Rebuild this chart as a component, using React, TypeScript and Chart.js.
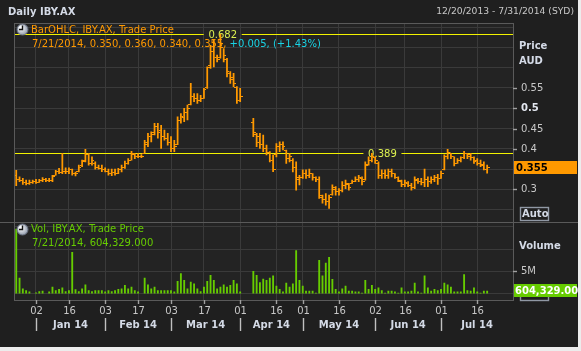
import React, { useEffect, useRef } from 'react';
import { Chart, registerables } from 'chart.js';

Chart.register(...registerables);

// ---- trading days (ASX) ----
const dec2013 = [20, 23, 24, 27, 30, 31];
const jan2014 = [2, 3, 6, 7, 8, 9, 10, 13, 14, 15, 16, 17, 20, 21, 22, 23, 24, 28, 29, 30, 31];
const feb2014 = [3, 4, 5, 6, 7, 10, 11, 12, 13, 14, 17, 18, 19, 20, 21, 24, 25, 26, 27, 28];
const mar2014 = [3, 4, 5, 6, 7, 10, 11, 12, 13, 14, 17, 18, 19, 20, 21, 24, 25, 26, 27, 28, 31];
const apr2014 = [1, 2, 3, 4, 7, 8, 9, 10, 11, 14, 15, 16, 17, 22, 23, 24, 28, 29, 30];
const may2014 = [1, 2, 5, 6, 7, 8, 9, 12, 13, 14, 15, 16, 19, 20, 21, 22, 23, 26, 27, 28, 29, 30];
const jun2014 = [2, 3, 4, 5, 6, 10, 11, 12, 13, 16, 17, 18, 19, 20, 23, 24, 25, 26, 27, 30];
const jul2014 = [1, 2, 3, 4, 7, 8, 9, 10, 11, 14, 15, 16, 17, 18, 21, 22, 23, 24, 25, 28, 29, 30, 31];

const dates: string[] = [
  ...dec2013.map((d) => `12/${d}/2013`),
  ...jan2014.map((d) => `1/${d}/2014`),
  ...feb2014.map((d) => `2/${d}/2014`),
  ...mar2014.map((d) => `3/${d}/2014`),
  ...apr2014.map((d) => `4/${d}/2014`),
  ...may2014.map((d) => `5/${d}/2014`),
  ...jun2014.map((d) => `6/${d}/2014`),
  ...jul2014.map((d) => `7/${d}/2014`),
];

// ---- x axis ticks ----
const tickDates = ['1/2/2014', '1/16/2014', '2/3/2014', '2/17/2014', '3/3/2014', '3/17/2014', '4/1/2014',
  '4/16/2014', '5/1/2014', '5/16/2014', '6/2/2014', '6/16/2014', '7/1/2014', '7/16/2014'];
const tickLabels = ['02', '16', '03', '17', '03', '17', '01', '16', '01', '16', '02', '16', '01', '16'];
const monthStarts = ['1/2/2014', '2/3/2014', '3/3/2014', '4/1/2014', '5/1/2014', '6/2/2014', '7/1/2014'];
const monthLabels = ['Jan 14', 'Feb 14', 'Mar 14', 'Apr 14', 'May 14', 'Jun 14', 'Jul 14'];

// ---- y axis ticks ----
const priceGrid = [0.25, 0.3, 0.35, 0.4, 0.45, 0.5, 0.55, 0.6, 0.65, 0.7];
const priceLabels = [0.55, 0.5, 0.45, 0.4, 0.3];
const volGrid = [0, 5, 10, 15];
const volLabels = [5];

// ---- OHLC (AUD) ----
const highs: (number | null)[] = [
  .347, .331, .327, .323, .323, .323, .325, .325, .329, .327,
  .327, .335, .347, .352, .389, .353, .353, .350, .343, .360,
  .372, .399, .389, .380, .368, .360, .360, .353, .350, .350,
  .350, .352, .360, .370, .376, .394, .389, .389, .386, .421,
  .438, .442, .463, .463, .458, .446, .438, .430, .421, .479,
  .487, .500, .508, .561, .536, .536, .532, .549, .602, .655,
  .668, .631, .682, .647, .623, .590, .586, .553, .549, null,
  null, null, .475, .438, .438, .434, .409, .393, .385, .413,
  .417, .417, .397, .389, .376, .368, .335, .348, .348, .350,
  .339, .331, .331, .286, .290, .286, .311, .307, .302, .319,
  .323, .315, .323, .331, .335, .331, .368, .380, .389, .380,
  .368, .348, .348, .350, .350, .339, .331, .323, .323, .319,
  .315, .331, .327, .327, .350, .331, .331, .335, .337, .345,
  .385, .399, .389, .380, .376, .380, .394, .389, .389, .380,
  .376, .372, .368, .360,
];
const lows: (number | null)[] = [
  .309, .319, .312, .311, .312, .315, .315, .317, .319, .319,
  .319, .319, .335, .339, .339, .339, .339, .335, .333, .343,
  .356, .368, .360, .360, .350, .350, .344, .343, .335, .334,
  .335, .339, .343, .352, .362, .372, .376, .378, .378, .389,
  .405, .417, .434, .426, .401, .421, .409, .393, .393, .410,
  .463, .467, .471, .508, .516, .512, .516, .524, .549, .598,
  .602, .614, .623, .614, .577, .561, .553, .512, .516, null,
  null, null, .430, .405, .401, .393, .385, .368, .344, .380,
  .393, .397, .364, .368, .343, .298, .311, .327, .327, .329,
  .323, .319, .278, .266, .261, .253, .286, .286, .286, .294,
  .302, .298, .315, .319, .319, .311, .323, .360, .368, .364,
  .327, .327, .327, .327, .331, .327, .319, .307, .307, .307,
  .298, .302, .315, .311, .307, .307, .315, .319, .312, .327,
  .348, .375, .376, .358, .364, .368, .376, .376, .372, .364,
  .360, .356, .348, .340,
];
const opens: (number | null)[] = [
  .335, .325, .322, .318, .315, .318, .320, .318, .322, .325,
  .322, .323, .335, .345, .342, .345, .343, .348, .340, .343,
  .358, .370, .385, .365, .365, .355, .352, .350, .345, .340,
  .342, .340, .348, .355, .365, .372, .385, .380, .382, .389,
  .410, .430, .440, .455, .445, .430, .425, .415, .400, .410,
  .470, .478, .490, .510, .530, .525, .520, .525, .550, .605,
  .640, .625, .625, .650, .620, .585, .575, .550, .520, null,
  null, null, .465, .435, .430, .410, .400, .390, .372, .385,
  .405, .410, .395, .375, .370, .355, .325, .330, .340, .335,
  .338, .330, .325, .280, .275, .270, .288, .300, .295, .298,
  .310, .312, .315, .320, .325, .328, .325, .362, .372, .378,
  .365, .335, .340, .335, .345, .338, .330, .320, .312, .315,
  .310, .305, .322, .320, .318, .325, .320, .325, .330, .328,
  .350, .380, .390, .380, .365, .372, .378, .388, .385, .378,
  .370, .365, .362, .350,
];
const closes: (number | null)[] = [
  .325, .323, .318, .315, .318, .320, .318, .322, .325, .322,
  .323, .332, .345, .342, .345, .343, .348, .340, .338, .355,
  .368, .385, .365, .372, .355, .352, .350, .345, .340, .342,
  .340, .348, .355, .365, .370, .388, .380, .382, .380, .415,
  .430, .435, .455, .440, .430, .425, .415, .400, .405, .470,
  .480, .490, .500, .530, .525, .520, .525, .545, .600, .640,
  .625, .620, .660, .630, .590, .570, .560, .520, .530, null,
  null, null, .440, .415, .410, .400, .390, .372, .350, .405,
  .410, .405, .375, .380, .355, .330, .330, .340, .335, .340,
  .330, .325, .285, .275, .270, .280, .305, .295, .298, .310,
  .315, .305, .320, .325, .330, .320, .360, .372, .380, .370,
  .335, .340, .335, .345, .340, .330, .322, .312, .318, .310,
  .305, .325, .320, .318, .325, .320, .325, .330, .328, .340,
  .380, .390, .382, .365, .372, .378, .388, .382, .378, .368,
  .365, .360, .350, .355,
];
// ---- volume (millions) ----
const volumes: (number | null)[] = [
  14.5, 3.5, 1.1, 0.7, 0.4, null, 0.2, 0.5, 0.6, null,
  0.4, 1.5, 0.7, 1.0, 1.3, 0.5, 0.7, 9.3, 0.9, 0.5,
  1.1, 2.0, 0.7, 0.5, 0.7, 0.7, 0.7, 0.4, 0.7, 0.5,
  0.7, 1.0, 1.1, 1.9, 1.1, 1.5, 0.7, 0.4, null, 3.5,
  2.0, 1.1, 1.5, 0.7, 0.7, 0.7, 0.7, 0.7, 0.4, 2.8,
  4.5, 3.0, 1.1, 2.6, 2.2, 1.1, 0.5, 1.5, 2.8, 4.1,
  3.0, 1.1, 1.5, 2.0, 1.5, 1.9, 3.0, 2.2, 0.4, null,
  null, null, 5.0, 4.1, 2.5, 3.3, 3.0, 3.5, 4.0, 1.7,
  1.0, 0.4, 2.4, 1.5, 2.2, 9.7, 3.0, 1.7, 0.6, 0.6,
  0.6, 0.15, 7.5, 4.0, 6.9, 8.2, 3.2, 1.0, 0.4, 1.1,
  1.7, 0.6, 0.6, 0.4, 0.4, 0.15, 3.0, 1.0, 1.9, 1.0,
  1.3, 0.7, 0.15, 0.6, 0.6, 0.4, 0.15, 1.3, 0.4, 0.4,
  0.6, 2.4, 0.4, 0.15, 4.0, 1.3, 0.6, 1.0, 0.7, 1.0,
  2.4, 2.0, 1.5, 0.4, 0.4, 0.4, 4.3, 0.7, 0.6, 1.3,
  0.4, 0.15, 0.6, 0.604329,
];

// reference lines
const refLevels = [0.682, 0.389];
const refLabelIdx = [62.7, 111.2];

const ORANGE = '#ff9900';
const GREEN = '#66cc00';
const CYAN = '#19d4e6';
const YELLOW = '#f2f200';
const YLABEL = '#dcf050';
const GRID = '#3a3a3a';
const BORDER = '#5a5a5a';
const AXTXT = '#c8c8c8';
const BOLDTXT = '#d4dae6';
const F = '"DejaVu Sans", sans-serif';

function txt(ctx: CanvasRenderingContext2D, s: string, x: number, y: number, font: string, color: string, align: CanvasTextAlign = 'left') {
  ctx.font = font;
  ctx.fillStyle = color;
  ctx.textAlign = align;
  ctx.textBaseline = 'middle';
  ctx.fillText(s, x, y);
}

function clock(ctx: CanvasRenderingContext2D, cx: number, cy: number) {
  const g = ctx.createRadialGradient(cx - 2, cy - 2, 1, cx, cy, 6);
  g.addColorStop(0, '#ffffff');
  g.addColorStop(1, '#8a94a6');
  ctx.beginPath();
  ctx.arc(cx, cy, 5.5, 0, Math.PI * 2);
  ctx.fillStyle = g;
  ctx.fill();
  ctx.strokeStyle = '#6a7282';
  ctx.lineWidth = 1;
  ctx.stroke();
  ctx.beginPath();
  ctx.moveTo(cx, cy - 4);
  ctx.lineTo(cx, cy);
  ctx.lineTo(cx - 3.5, cy);
  ctx.strokeStyle = '#111';
  ctx.lineWidth = 1.4;
  ctx.stroke();
}

export default function App() {
  const ref = useRef<HTMLCanvasElement>(null);

  useEffect(() => {
    const canvas = ref.current!;
    const mkTick = (left: boolean) => {
      const c = document.createElement('canvas');
      c.width = 5;
      c.height = 1;
      const g = c.getContext('2d')!;
      g.fillStyle = ORANGE;
      g.fillRect(left ? 0 : 3, 0, 2, 1);
      return c;
    };
    const openTick = mkTick(true);
    const closeTick = mkTick(false);

    const last = closes.length - 1;
    const tickIdx = tickDates.map((d) => dates.indexOf(d));
    const monthIdx = monthStarts.map((d) => dates.indexOf(d));

    const hlData: any[] = [];
    const openData: any[] = [];
    const closeData: any[] = [];
    const volData: any[] = [];
    highs.forEach((h, i) => {
      if (h != null && lows[i] != null) hlData.push({ x: i, y: [lows[i], h] });
      if (opens[i] != null) openData.push({ x: i, y: opens[i] });
      if (closes[i] != null) closeData.push({ x: i, y: closes[i] });
    });
    volumes.forEach((v, i) => {
      if (v != null) volData.push({ x: i, y: v });
    });

    const decor = {
      id: 'decor',
      beforeDraw(c: any) {
        const ctx = c.ctx as CanvasRenderingContext2D;
        const a = c.chartArea;
        ctx.save();
        ctx.fillStyle = '#ececec';
        ctx.fillRect(0, 0, 581, 351);
        ctx.fillStyle = '#1f1f1f';
        ctx.fillRect(0, 0, 578, 347);
        ctx.fillStyle = '#232323';
        ctx.fillRect(a.left, a.top, a.right - a.left, a.bottom - a.top);
        ctx.restore();
      },
      beforeDatasetsDraw(c: any) {
        const ctx = c.ctx as CanvasRenderingContext2D;
        const a = c.chartArea;
        const xs = c.scales.x;
        const ys = c.scales.y;
        ctx.save();
        refLevels.forEach((lv, k) => {
          const y = Math.round(ys.getPixelForValue(lv)) + 0.5;
          const lx = xs.getPixelForValue(refLabelIdx[k]);
          ctx.strokeStyle = YELLOW;
          ctx.lineWidth = 1;
          ctx.beginPath();
          ctx.moveTo(a.left, y);
          ctx.lineTo(lx - 19, y);
          ctx.moveTo(lx + 19, y);
          ctx.lineTo(a.right, y);
          ctx.stroke();
          txt(ctx, lv.toFixed(3), lx, y + 0.5, `10px ${F}`, YLABEL, 'center');
        });
        ctx.restore();
      },
      afterDraw(c: any) {
        const ctx = c.ctx as CanvasRenderingContext2D;
        const a = c.chartArea;
        const xs = c.scales.x;
        const ys = c.scales.y;
        const yv = c.scales.yv;
        ctx.save();
        // borders
        ctx.strokeStyle = BORDER;
        ctx.lineWidth = 1;
        ctx.strokeRect(Math.round(a.left) + 0.5, Math.round(a.top) + 0.5, Math.round(a.right - a.left), Math.round(a.bottom - a.top));
        const sep = Math.round(yv.top) + 0.5;
        ctx.beginPath();
        ctx.moveTo(0, sep);
        ctx.lineTo(578, sep);
        ctx.stroke();

        // title
        txt(ctx, 'Daily IBY.AX', 8, 12, `bold 10px ${F}`, BOLDTXT);
        txt(ctx, `${dates[0]} - ${dates[dates.length - 1]} (SYD)`, 574, 12, `9.2px ${F}`, AXTXT, 'right');

        // price legend
        clock(ctx, 22.5, 29.5);
        txt(ctx, 'BarOHLC, IBY.AX, Trade Price', 31, 30, `10px ${F}`, ORANGE);
        const o = opens[last]!, h = highs[last]!, l = lows[last]!, cl = closes[last]!;
        const prev = closes[last - 1]!;
        const chg = cl - prev;
        const pct = (chg / prev) * 100;
        const s1 = `${dates[last]}, ${o.toFixed(3)}, ${h.toFixed(3)}, ${l.toFixed(3)}, ${cl.toFixed(3)}, `;
        txt(ctx, s1, 32, 44.5, `10px ${F}`, ORANGE);
        const w1 = ctx.measureText(s1).width;
        txt(ctx, `${chg >= 0 ? '+' : ''}${chg.toFixed(3)}, (${pct >= 0 ? '+' : ''}${pct.toFixed(2)}%)`, 32 + w1, 44.5, `10px ${F}`, CYAN);

        // volume legend
        clock(ctx, 22.5, 229.5);
        txt(ctx, 'Vol, IBY.AX, Trade Price', 31, 229.5, `10px ${F}`, GREEN);
        const lv = volumes[last]! * 1e6;
        txt(ctx, `${dates[last]}, ${lv.toLocaleString('en-US', { minimumFractionDigits: 3, maximumFractionDigits: 3 })}`, 32, 243.5, `10px ${F}`, GREEN);

        // right axis - price
        const R = Math.round(a.right);
        txt(ctx, 'Price', 519, 46, `bold 10px ${F}`, BOLDTXT);
        txt(ctx, 'AUD', 519, 61, `bold 10px ${F}`, BOLDTXT);
        ctx.strokeStyle = '#a0a0a0';
        priceLabels.forEach((v) => {
          const y = Math.round(ys.getPixelForValue(v)) + 0.5;
          ctx.beginPath();
          ctx.moveTo(R, y);
          ctx.lineTo(R + 4, y);
          ctx.stroke();
          const bold = Math.abs(v - 0.5) < 1e-9;
          txt(ctx, String(v), 521, y, `${bold ? 'bold ' : ''}10px ${F}`, bold ? '#e2e6ee' : AXTXT);
        });
        // last price box
        const yc = ys.getPixelForValue(cl);
        ctx.fillStyle = ORANGE;
        ctx.fillRect(R + 1, Math.round(yc - 6.5), 63, 13);
        txt(ctx, cl.toFixed(3), R + 3, Math.round(yc - 6.5) + 7, `bold 10px ${F}`, '#000');
        // Auto box
        ctx.strokeStyle = '#9098a4';
        ctx.strokeRect(520.5, 207.5, 28, 13);
        txt(ctx, 'Auto', 522, 214.5, `bold 10px ${F}`, BOLDTXT);

        // right axis - volume
        txt(ctx, 'Volume', 519, 246, `bold 10px ${F}`, BOLDTXT);
        ctx.strokeStyle = '#a0a0a0';
        volLabels.forEach((v) => {
          const y = Math.round(yv.getPixelForValue(v)) + 0.5;
          ctx.beginPath();
          ctx.moveTo(R, y);
          ctx.lineTo(R + 4, y);
          ctx.stroke();
          txt(ctx, `${v}M`, 521, y, `10px ${F}`, AXTXT);
        });
        ctx.strokeStyle = '#9098a4';
        ctx.strokeRect(520.5, 287.5, 28, 13);
        const yvc = yv.getPixelForValue(volumes[last]!);
        ctx.fillStyle = GREEN;
        ctx.fillRect(R + 1, Math.round(yvc - 6.5), 63, 13);
        txt(ctx, lv.toLocaleString('en-US', { minimumFractionDigits: 2, maximumFractionDigits: 2 }), R + 2, Math.round(yvc - 6.5) + 7, `bold 10px ${F}`, '#ffffff');

        // x axis ticks and labels
        const B = Math.round(a.bottom);
        ctx.strokeStyle = '#a0a0a0';
        tickIdx.forEach((ti, k) => {
          const x = Math.round(xs.getPixelForValue(ti)) + 0.5;
          ctx.beginPath();
          ctx.moveTo(x, B);
          ctx.lineTo(x, B + 4);
          ctx.stroke();
          txt(ctx, tickLabels[k], x, B + 11, `10px ${F}`, AXTXT, 'center');
        });
        monthIdx.forEach((mi, k) => {
          const x0 = xs.getPixelForValue(mi);
          const x1 = k + 1 < monthIdx.length ? xs.getPixelForValue(monthIdx[k + 1]) : a.right;
          const sx = Math.round(x0) + 0.5;
          ctx.strokeStyle = '#c0c0c0';
          ctx.beginPath();
          ctx.moveTo(sx, B + 18);
          ctx.lineTo(sx, B + 31);
          ctx.stroke();
          txt(ctx, monthLabels[k], (x0 + x1) / 2, B + 25, `bold 10px ${F}`, BOLDTXT, 'center');
        });
        ctx.restore();
      },
    };

    const chart = new Chart(canvas, {
      type: 'bar',
      data: {
        datasets: [
          {
            type: 'bar', label: 'HL', data: hlData, xAxisID: 'x', yAxisID: 'y',
            backgroundColor: ORANGE, borderWidth: 0, barThickness: 1.1, grouped: false,
          } as any,
          {
            type: 'line', label: 'Open', data: openData, xAxisID: 'x', yAxisID: 'y',
            showLine: false, pointStyle: openTick, pointRadius: 3, pointHoverRadius: 3,
          } as any,
          {
            type: 'line', label: 'Close', data: closeData, xAxisID: 'x', yAxisID: 'y',
            showLine: false, pointStyle: closeTick, pointRadius: 3, pointHoverRadius: 3,
          } as any,
          {
            type: 'bar', label: 'Vol', data: volData, xAxisID: 'x', yAxisID: 'yv',
            backgroundColor: GREEN, borderWidth: 0, barThickness: 1.2, grouped: false,
          } as any,
        ],
      },
      options: {
        responsive: false,
        maintainAspectRatio: false,
        animation: false,
        events: [],
        layout: { padding: { left: 14, right: 68, top: 23, bottom: 51 } },
        plugins: { legend: { display: false }, tooltip: { enabled: false } },
        scales: {
          x: {
            type: 'linear', min: -0.68, max: 150.85, offset: false,
            afterBuildTicks: (s: any) => { s.ticks = tickIdx.map((v) => ({ value: v })); },
            ticks: { display: false },
            grid: { color: GRID, drawTicks: false, offset: false },
            border: { display: false },
          },
          y: {
            type: 'linear', position: 'right', stack: 'panes', stackWeight: 2.53,
            min: 0.2209, max: 0.7099,
            afterBuildTicks: (s: any) => { s.ticks = priceGrid.map((v) => ({ value: v })); },
            ticks: { display: false },
            grid: { color: GRID, drawTicks: false },
            border: { display: false },
          },
          yv: {
            type: 'linear', position: 'right', stack: 'panes', stackWeight: 1,
            min: -1.42, max: 16.22,
            afterBuildTicks: (s: any) => { s.ticks = volGrid.map((v) => ({ value: v })); },
            ticks: { display: false },
            grid: { color: GRID, drawTicks: false },
            border: { display: false },
          },
        } as any,
      },
      plugins: [decor],
    });
    return () => chart.destroy();
  }, []);

  return (
    <div style={{ position: 'fixed', left: 0, top: 0, width: 581, height: 351 }}>
      <canvas ref={ref} width={581} height={351} style={{ width: 581, height: 351, display: 'block' }} />
    </div>
  );
}
